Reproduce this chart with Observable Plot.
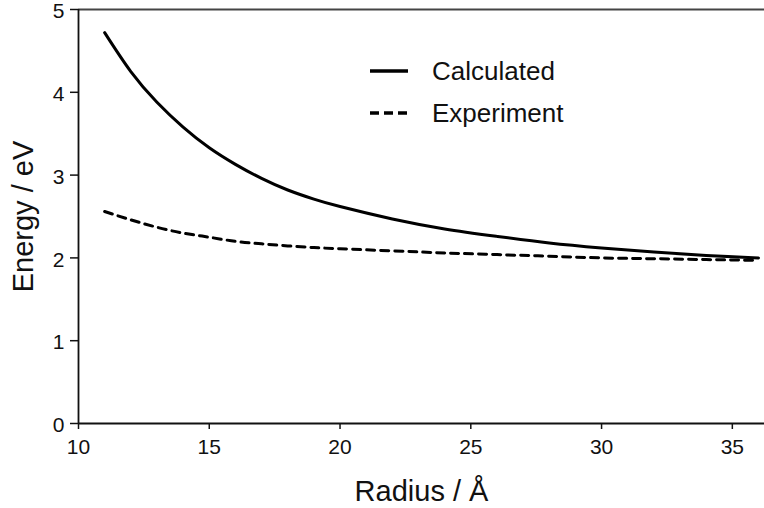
<!DOCTYPE html>
<html>
<head>
<meta charset="utf-8">
<script src="https://cdn.jsdelivr.net/npm/d3@7"></script>
<script src="https://cdn.jsdelivr.net/npm/@observablehq/plot@0.6"></script>
<style>
  html, body { margin: 0; padding: 0; background: #fff; }
  #wrap { position: relative; width: 764px; height: 508px; font-family: Arial, "Liberation Sans", sans-serif; }
  #legend { position: absolute; left: 0; top: 0; pointer-events: none; }
  #wrap svg g[aria-label="x-axis tick label"],
  #wrap svg g[aria-label="y-axis tick label"] { font-size: 21px !important; }
</style>
</head>
<body>
<div id="wrap"></div>
<script>
// Data
const radius = [11, 12, 13, 14, 15, 16, 17, 18, 19, 20, 22, 24, 26, 28, 30, 32, 34, 36];
const calculated = [4.72, 4.25, 3.88, 3.58, 3.33, 3.13, 2.96, 2.82, 2.71, 2.62, 2.47, 2.35, 2.26, 2.18, 2.12, 2.07, 2.03, 2.00];
const experiment = [2.56, 2.46, 2.37, 2.30, 2.25, 2.20, 2.17, 2.145, 2.125, 2.11, 2.085, 2.06, 2.04, 2.02, 2.00, 1.99, 1.98, 1.97];
const xTicks = [10, 15, 20, 25, 30, 35];
const yTicks = [0, 1, 2, 3, 4, 5];
const seriesNames = ["Calculated", "Experiment"];

const calcData = radius.map((r, i) => ({r, e: calculated[i]}));
const expData = radius.map((r, i) => ({r, e: experiment[i]}));

const font = 'Arial, "Liberation Sans", sans-serif';

const chart = Plot.plot({
  width: 764,
  height: 508,
  marginLeft: 78,
  marginRight: 0,
  marginTop: 9,
  marginBottom: 85,
  style: {fontFamily: font, fontSize: "21px", color: "#111", background: "#fff", overflow: "visible"},
  x: {domain: [10, 36.23], ticks: xTicks, label: null},
  y: {domain: [0, 5], ticks: yTicks, label: null},
  marks: [
    Plot.ruleY([5], {stroke: "#444", strokeWidth: 2}),
    Plot.axisX({ticks: xTicks, tickSize: 6, tickPadding: 10, fontSize: 21, stroke: "#111", strokeWidth: 1.5}),
    Plot.axisY({ticks: yTicks, tickSize: 8, text: null, stroke: "#111", strokeWidth: 1.5}),
    Plot.axisY({ticks: yTicks, tickFormat: d3.format("d"), tickSize: 0, tickPadding: 14, dy: 2, fontSize: 21}),
    Plot.ruleY([0], {stroke: "#111", strokeWidth: 1.8}),
    Plot.ruleX([10], {stroke: "#111", strokeWidth: 1.8}),
    Plot.line(calcData, {x: "r", y: "e", stroke: "#000", strokeWidth: 3, curve: "natural"}),
    Plot.line(expData, {x: "r", y: "e", stroke: "#000", strokeWidth: 3, strokeDasharray: "8,6", curve: "natural"}),
    Plot.text(["Radius / Å"], {frameAnchor: "bottom", dy: 77, fontSize: 29, fill: "#111"}),
    Plot.text(["Energy / eV"], {frameAnchor: "left", textAnchor: "middle", dx: -55, rotate: -90, fontSize: 29, fill: "#111"})
  ]
});
document.getElementById("wrap").appendChild(chart);

// Legend overlay
const leg = d3.select("#wrap").append("svg")
  .attr("id", "legend").attr("width", 764).attr("height", 508);
const rows = [
  {name: seriesNames[0], y: 71, dash: null},
  {name: seriesNames[1], y: 113, dash: "9,5"}
];
rows.forEach(d => {
  leg.append("line").attr("x1", 370).attr("x2", 408).attr("y1", d.y).attr("y2", d.y)
    .attr("stroke", "#000").attr("stroke-width", 3.5).attr("stroke-dasharray", d.dash);
  leg.append("text").attr("x", 432).attr("y", d.y + 9).attr("font-size", 26)
    .attr("font-family", font).attr("fill", "#111").text(d.name);
});
</script>
</body>
</html>
